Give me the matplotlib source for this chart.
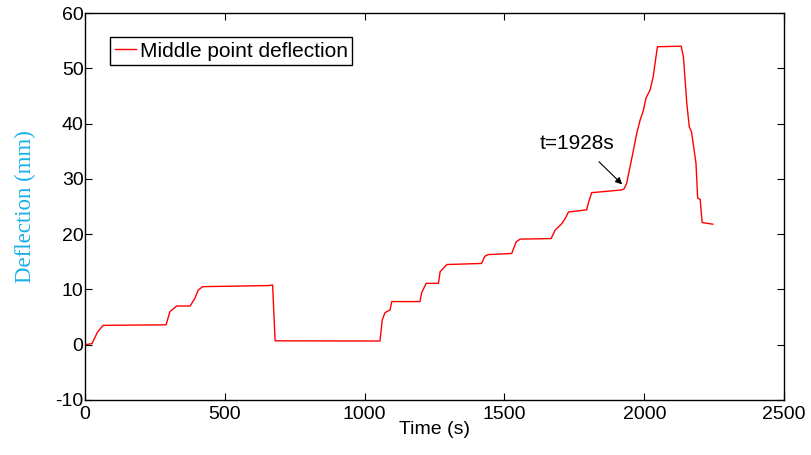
import matplotlib
matplotlib.use("Agg")
import matplotlib.pyplot as plt

plt.rcParams["axes.unicode_minus"] = False

# time (s) and mid-point deflection (mm)
time_s = [0, 25, 45, 65, 290, 304, 328, 376, 393, 405, 421, 656, 671, 676, 680,
          1055, 1063, 1073, 1091, 1097, 1198, 1204, 1220, 1264, 1270, 1294, 1418,
          1430, 1442, 1526, 1542, 1556, 1667, 1681, 1705, 1717, 1729, 1794, 1800,
          1812, 1919, 1928, 1937, 1959, 1973, 1985, 1997, 2006, 2021, 2032, 2047,
          2132, 2140, 2152, 2161, 2169, 2185, 2191, 2200, 2207, 2245]
deflection_mm = [0.0, 0.2, 2.3, 3.5, 3.6, 6.0, 7.0, 7.0, 8.4, 9.9, 10.5, 10.7, 10.8, 5.0, 0.7,
                 0.67, 4.5, 5.8, 6.3, 7.8, 7.8, 9.4, 11.1, 11.1, 13.2, 14.5, 14.7,
                 16.0, 16.3, 16.5, 18.6, 19.1, 19.2, 20.7, 21.9, 22.8, 24.0, 24.4, 25.6,
                 27.5, 28.0, 28.2, 29.2, 34.6, 38.2, 40.6, 42.4, 44.6, 46.1, 48.5, 53.9,
                 54.0, 52.1, 43.7, 39.4, 38.5, 32.8, 26.5, 26.3, 22.1, 21.8]

fig = plt.figure(figsize=(8.11, 4.55), dpi=100)
ax = fig.add_axes([0.1048, 0.1209, 0.862, 0.8505])

ax.plot(time_s, deflection_mm, color="red", linewidth=1.0, label="Middle point deflection")

ax.set_xlim(0, 2500)
ax.set_ylim(-10, 60)
ax.set_xticks([0, 500, 1000, 1500, 2000, 2500])
ax.set_yticks([-10, 0, 10, 20, 30, 40, 50, 60])
ax.tick_params(direction="in", top=True, right=True, length=5, labelsize=14, pad=1)
ax.tick_params(axis="x", pad=4)
for lab in ax.get_xticklabels() + ax.get_yticklabels():
    lab.set_fontfamily("Liberation Sans")
for s in ax.spines.values():
    s.set_linewidth(1.0)

ax.set_xlabel("Time (s)", fontsize=14, family="Liberation Sans", labelpad=-1)
ax.set_ylabel("Deflection (mm)", fontsize=16.5, family="Liberation Serif",
              color="#1ab0e8", labelpad=14)

# annotation: label and arrow pointing at the start of the final loading
ax.text(1760, 34.6, "t=1928s", fontsize=15, family="Liberation Sans",
        ha="center", va="bottom")
ax.annotate("", xy=(1921, 29), xytext=(1838, 33.1),
            arrowprops=dict(arrowstyle="-|>", color="black", lw=0.8,
                            mutation_scale=10, shrinkA=0, shrinkB=0))

leg = ax.legend(loc="upper left", bbox_to_anchor=(0.036, 0.938),
                prop={"family": "Liberation Sans", "size": 15},
                handlelength=1.0, handletextpad=0.2, borderpad=0.22,
                borderaxespad=0, fancybox=False, framealpha=1, edgecolor="black")
leg.get_frame().set_linewidth(1.0)

fig.savefig("out.png", dpi=100)
